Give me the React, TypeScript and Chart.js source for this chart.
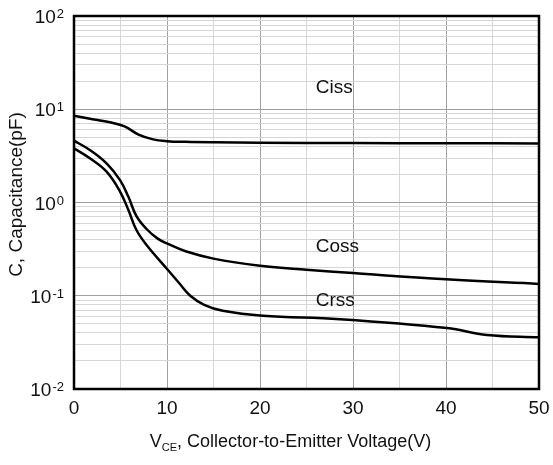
import React, { useEffect, useRef } from "react";
import { Chart, registerables } from "chart.js";

Chart.register(...registerables);

const FONT = '"Liberation Sans", Arial, sans-serif';

// Ciss
const cissVoltage = [0, 2, 4, 5.5, 7, 8.5, 10, 12, 15, 20, 30, 40, 50];
const cissCap = [8.5, 7.8, 7.2, 6.5, 5.3, 4.75, 4.55, 4.47, 4.42, 4.38, 4.34, 4.32, 4.3];

// Coss
const cossVoltage = [0, 1.7, 3.5, 4.95, 5.85, 6.7, 7.8, 9, 10.1, 12, 15, 20, 25, 30, 40, 50];
const cossCap = [4.6, 3.66, 2.63, 1.74, 1.15, 0.72, 0.52, 0.41, 0.36, 0.3, 0.25, 0.21, 0.19, 0.175, 0.15, 0.134];

// Crss
const crssVoltage = [0, 1.7, 3.5, 4.95, 5.85, 6.7, 7.8, 10.1, 11.3, 12.5, 14, 16, 20.3, 28.6, 40.1, 44.4, 50];
const crssCap = [3.81, 2.98, 2.14, 1.31, 0.83, 0.51, 0.35, 0.189, 0.137, 0.1, 0.08, 0.069, 0.061, 0.056, 0.045, 0.038, 0.0358];

// Axes
const xMin = 0;
const xMax = 50;
const xStep = 5;
const xLabelEvery = 10;
const yDecades = [-2, -1, 0, 1, 2];
const yMultipliers = [1, 2, 3, 4, 5, 6, 7, 8, 9];
const yTickBase = "10";
const yTickExponents = ["-2", "-1", "0", "1", "2"];

// Texts
const yTitle = "C, Capacitance(pF)";
const xTitleMain = "V";
const xTitleSub = "CE";
const xTitleRest = ", Collector-to-Emitter Voltage(V)";

// Curve labels
const curveLabels = ["Ciss", "Coss", "Crss"];
const curveLabelX = [26, 26, 26];
const curveLabelY = [16.9, 0.333, 0.088];

const yGridValues: number[] = [];
yDecades.forEach((e) => {
  if (e === yDecades[yDecades.length - 1]) {
    yGridValues.push(Math.pow(10, e));
  } else {
    yMultipliers.forEach((m) => yGridValues.push(+(m * Math.pow(10, e)).toPrecision(6)));
  }
});

const isDecade = (v: number) => Math.abs(Math.log10(v) - Math.round(Math.log10(v))) < 1e-6;

const overlay = {
  id: "overlay",
  afterDraw(chart: any) {
    const { ctx, chartArea: a, scales } = chart;
    const ys = scales.y;
    const xs = scales.x;
    ctx.save();
    // frame
    ctx.strokeStyle = "#000";
    ctx.lineWidth = 2.5;
    ctx.strokeRect(a.left, a.top, a.right - a.left, a.bottom - a.top);

    ctx.fillStyle = "#111";
    // y tick labels with superscripts
    yDecades.forEach((e, i) => {
      const py = ys.getPixelForValue(Math.pow(10, e));
      const sup = yTickExponents[i];
      ctx.font = `13px ${FONT}`;
      const supW = ctx.measureText(sup).width;
      ctx.font = `19px ${FONT}`;
      const baseW = ctx.measureText(yTickBase).width;
      const right = a.left - 10;
      ctx.textAlign = "left";
      ctx.textBaseline = "alphabetic";
      ctx.fillText(yTickBase, right - supW - baseW - 1, py + 7);
      ctx.font = `13px ${FONT}`;
      ctx.fillText(sup, right - supW, py + 2);
    });

    // y title
    ctx.save();
    ctx.translate(22, (a.top + a.bottom) / 2 - 8);
    ctx.rotate(-Math.PI / 2);
    ctx.font = `19px ${FONT}`;
    ctx.textAlign = "center";
    ctx.textBaseline = "alphabetic";
    ctx.fillText(yTitle, 0, 0);
    ctx.restore();

    // x title with subscript
    ctx.textAlign = "left";
    ctx.textBaseline = "alphabetic";
    ctx.font = `18px ${FONT}`;
    const wMain = ctx.measureText(xTitleMain).width;
    const wRest = ctx.measureText(xTitleRest).width;
    ctx.font = `11px ${FONT}`;
    const wSub = ctx.measureText(xTitleSub).width;
    const total = wMain + wSub + wRest;
    const cx = (a.left + a.right) / 2 - 16;
    let tx = cx - total / 2;
    const by = 447;
    ctx.font = `18px ${FONT}`;
    ctx.fillText(xTitleMain, tx, by);
    tx += wMain;
    ctx.font = `11px ${FONT}`;
    ctx.fillText(xTitleSub, tx, by + 4);
    tx += wSub;
    ctx.font = `18px ${FONT}`;
    ctx.fillText(xTitleRest, tx, by);

    // curve labels
    ctx.font = `19px ${FONT}`;
    ctx.textBaseline = "middle";
    curveLabels.forEach((t, i) => {
      ctx.fillText(t, xs.getPixelForValue(curveLabelX[i]), ys.getPixelForValue(curveLabelY[i]));
    });
    ctx.restore();
  },
};

const toPoints = (xv: number[], yv: number[]) => xv.map((v, i) => ({ x: v, y: yv[i] }));

export default function App() {
  const ref = useRef<HTMLCanvasElement | null>(null);
  useEffect(() => {
    document.body.style.margin = "0";
    if (!ref.current) return;
    const lineStyle = {
      borderColor: "#000",
      borderWidth: 2.5,
      pointRadius: 0,
      fill: false,
      tension: 0.4,
    };
    const chart = new Chart(ref.current, {
      type: "line",
      data: {
        datasets: [
          { label: "Ciss", data: toPoints(cissVoltage, cissCap), ...lineStyle },
          { label: "Coss", data: toPoints(cossVoltage, cossCap), ...lineStyle },
          { label: "Crss", data: toPoints(crssVoltage, crssCap), ...lineStyle },
        ],
      },
      options: {
        responsive: false,
        animation: false,
        layout: { padding: { left: 0, top: 16, right: 14, bottom: 0 } },
        plugins: { legend: { display: false }, tooltip: { enabled: false } },
        scales: {
          x: {
            type: "linear",
            min: xMin,
            max: xMax,
            afterFit: (s: any) => {
              s.height = 76;
              s.paddingLeft = 0;
              s.paddingRight = 0;
            },
            border: { display: false },
            grid: {
              drawTicks: false,
              lineWidth: 1,
              color: (c: any) => (c.tick && c.tick.value % xLabelEvery === 0 ? "#a0a0a0" : "#d6d6d6"),
            },
            ticks: {
              stepSize: xStep,
              autoSkip: false,
              maxRotation: 0,
              padding: 8,
              color: "#111",
              font: { family: FONT, size: 19 },
              callback: (v: any) => (Number(v) % xLabelEvery === 0 ? String(v) : ""),
            },
          },
          y: {
            type: "logarithmic",
            min: Math.pow(10, yDecades[0]),
            max: Math.pow(10, yDecades[yDecades.length - 1]),
            afterBuildTicks: (s: any) => {
              s.ticks = yGridValues.map((v) => ({ value: v }));
            },
            afterFit: (s: any) => {
              s.width = 74;
              s.paddingTop = 0;
              s.paddingBottom = 0;
            },
            border: { display: false },
            grid: {
              drawTicks: false,
              lineWidth: 1,
              color: (c: any) => (c.tick && isDecade(c.tick.value) ? "#a0a0a0" : "#d6d6d6"),
            },
            ticks: { display: false },
          },
        },
      },
      plugins: [overlay],
    });
    return () => chart.destroy();
  }, []);
  return (
    <div style={{ width: 553, height: 465 }}>
      <canvas ref={ref} width={553} height={465} style={{ width: 553, height: 465, display: "block" }} />
    </div>
  );
}
